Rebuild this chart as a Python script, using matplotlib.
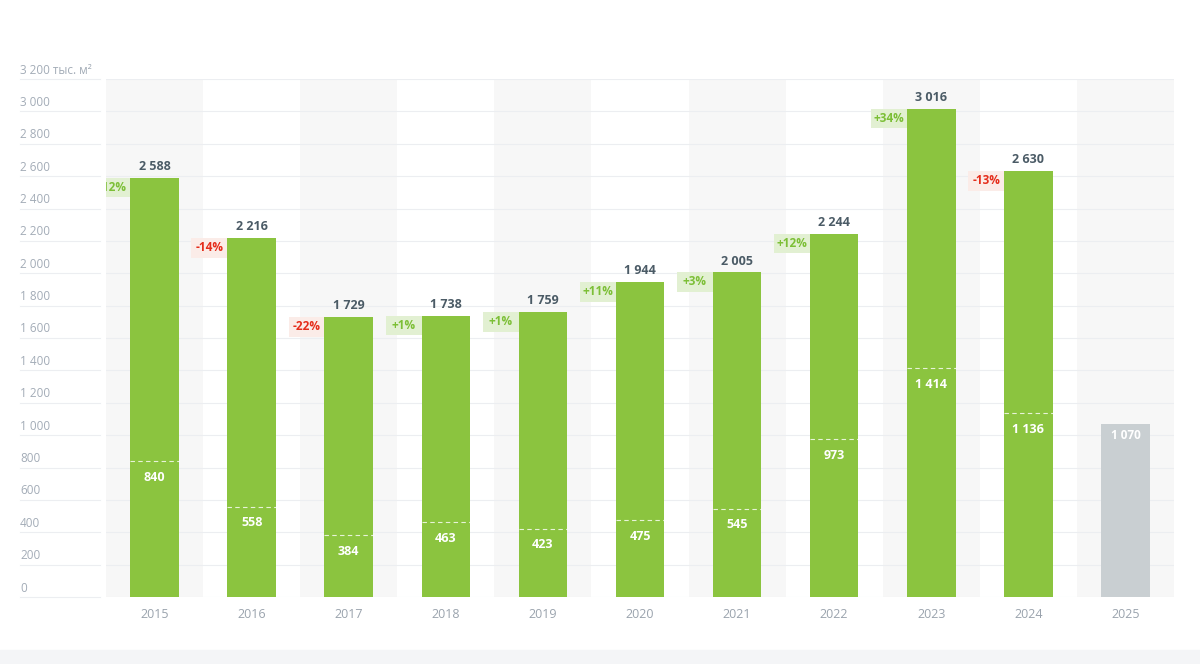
import matplotlib
matplotlib.use("Agg")
import matplotlib.pyplot as plt
from matplotlib.patches import Rectangle
from matplotlib.lines import Line2D

years = ["2015","2016","2017","2018","2019","2020","2021","2022","2023","2024","2025"]
totals = [2588, 2216, 1729, 1738, 1759, 1944, 2005, 2244, 3016, 2630, 1070]
inner = [840, 558, 384, 463, 423, 475, 545, 973, 1414, 1136, None]
changes = ["-12%", "-14%", "-22%", "+1%", "+1%", "+11%", "+3%", "+12%", "+34%", "-13%", None]
change_color = ["g", "r", "r", "g", "g", "g", "g", "g", "g", "r", None]
yticks = [0, 200, 400, 600, 800, 1000, 1200, 1400, 1600, 1800, 2000, 2200, 2400, 2600, 2800, 3000, 3200]

def fmt(v):
    return f"{v:,}".replace(",", " ")

plt.rcParams['font.family'] = ['Open Sans', 'DejaVu Sans']
W, H = 1200, 664
fig = plt.figure(figsize=(12, 6.64), dpi=100)
fig.patches.append(Rectangle((0, 0), 1, 14/H, transform=fig.transFigure, color="#f4f5f7", zorder=0))
ax = fig.add_axes([106/W, 1-597/H, (1174-106)/W, (597-79)/H])
ax.set_xlim(-0.5, len(years)-0.5)
ax.set_ylim(0, 3200)
for s in ax.spines.values():
    s.set_visible(False)
ax.set_yticks([])
ax.set_xticks(range(len(years)))
ax.set_xticklabels(years, color="#9aa3ad", fontsize=9)
ax.tick_params(axis="x", length=0, pad=8)

for i in range(len(years)):
    if i % 2 == 0:
        ax.axvspan(i-0.5, i+0.5, color="#f7f7f7", zorder=0, lw=0)
for t in yticks:
    ax.axhline(t, color="#eceef1", lw=0.8, zorder=0.5)
    yf = (597 - t*(597-79)/3200)
    fig.add_artist(Line2D([20/W, 100/W], [1-yf/H, 1-yf/H], color="#eceef1", lw=0.8))
    lab = fmt(t) if t != 3200 else "3 200 тыс. м²"
    fig.text(20/W, 1-(yf-9)/H, lab, color="#a3acb7", fontsize=8.5, va="center", ha="left")

for i, (v, inn) in enumerate(zip(totals, inner)):
    col = "#8bc43f" if inn is not None else "#c9cfd2"
    ax.bar(i, v, width=0.5, color=col, zorder=2)
    if inn is None:
        ax.text(i, v-75, fmt(v), ha="center", va="center", color="white", fontsize=8.5, fontweight="bold", zorder=4)
        continue
    ax.text(i, v+30, fmt(v), ha="center", va="bottom", color="#4b5b66", fontsize=9, fontweight="bold", zorder=4)
    ax.plot([i-0.25, i+0.25], [inn, inn], color="white", lw=0.8, ls=(0, (4, 3)), alpha=0.8, zorder=3)
    ax.text(i, inn-60, fmt(inn), ha="center", va="top", color="white", fontsize=9, fontweight="bold", zorder=4)
    if changes[i]:
        bg = "#e2f0d2" if change_color[i] == "g" else "#fbece8"
        fc = "#7cbf36" if change_color[i] == "g" else "#e52d1b"
        ax.add_patch(Rectangle((i-0.62, v-120), 0.37, 120, color=bg, zorder=1.5, lw=0))
        ax.text(i-0.435, v-58, changes[i], ha="center", va="center", color=fc, fontsize=8.5, fontweight="bold", zorder=4, clip_on=True)

fig.savefig("out.png", dpi=100)
